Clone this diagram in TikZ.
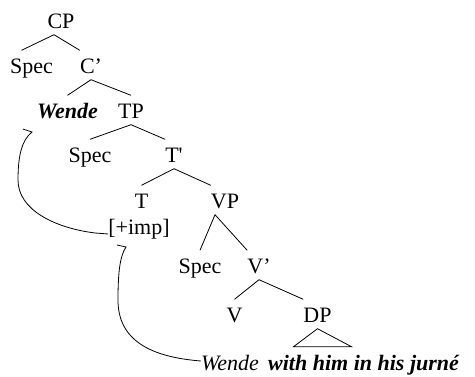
\documentclass[tikz,border=0pt]{standalone}
\usepackage{fontspec}
\setmainfont{Liberation Serif}
\usetikzlibrary{positioning, calc}

\begin{document}
\begin{tikzpicture}[x=1pt,y=-1pt,
    font=\fontsize{22}{26}\selectfont,
    lbl/.style={anchor=base, inner xsep=0pt, inner ysep=4.5pt, text height=18pt, text depth=2pt},
    branch/.style={-, line width=0.8pt, black},
    movearc/.style={-, line width=0.8pt, black}]

    \useasboundingbox (0,0) rectangle (475,376);

    % labels of the tree
    \node[lbl] (CP)     at (61,28)   {CP};
    \node[lbl] (Spec1)  at (31.5,73) {Spec};
    \node[lbl] (C1)     at (91,73)   {C’};
    \node[lbl] (Wende1) at (67.5,118) {\textbf{\textit{Wende}}};
    \node[lbl] (TP)     at (131,118) {TP};
    \node[lbl] (Spec2)  at (90,162)  {Spec};
    \node[lbl] (T1)     at (174,162) {T\textquotesingle};
    \node[lbl] (T)      at (141.5,208) {T};
    \node[lbl] (VP)     at (225,208) {VP};
    \node[lbl] (imp)    at (139,234) {[+imp]};
    \node[lbl] (Spec3)  at (200,273) {Spec};
    \node[lbl] (V1)     at (259,273) {V’};
    \node[lbl] (V)      at (234.5,322) {V};
    \node[lbl] (DP)     at (317.5,322) {DP};
    \node[lbl, text depth=0pt, inner ysep=3pt] (Wende2) at (230,370) {\textit{Wende}};
    \node[lbl, anchor=base west, text depth=0pt, inner ysep=3pt] (phrase) at (268,370) {\textbf{\textit{with him in his jurné}}};

    % branches
    \draw[branch] ([xshift=-7pt]CP.south) -- ([xshift=-10pt]Spec1.north);
    \draw[branch] ([xshift=-7pt]CP.south) -- (C1.north west);
    \draw[branch] (C1.south) -- (Wende1.north);
    \draw[branch] (C1.south) -- (TP.north);
    \draw[branch] (TP.south) -- (Spec2.north);
    \draw[branch] (TP.south) -- (T1.north west);
    \draw[branch] (T1.south) -- (T.north);
    \draw[branch] (T1.south) -- (VP.north west);
    \draw[branch] ([xshift=-10pt]VP.south) -- (Spec3.north);
    \draw[branch] ([xshift=-10pt]VP.south) -- (V1.north west);
    \draw[branch] (V1.south) -- (V.north);
    \draw[branch] (V1.south) -- (DP.north west);

    % triangle under DP
    \draw[branch] (DP.south) -- ++(-24,18) -- ++(58,0) -- cycle;

    % movement arcs
    \coordinate (gap1) at (32,132);
    \coordinate (gap2) at (126,247);
    \draw[movearc] (imp.base west) -- ++(-13,-1)
        .. controls (55,228) and (18,210) .. (18,180)
        .. controls (18,155) and (22,140) .. (gap1) -- ++(-9,-3);
    \draw[movearc] (Wende2.west)
        .. controls (150,357) and (118,340) .. (118,300)
        .. controls (118,272) and (120,256) .. (gap2) -- ++(-9,-2);

\end{tikzpicture}
\end{document}
